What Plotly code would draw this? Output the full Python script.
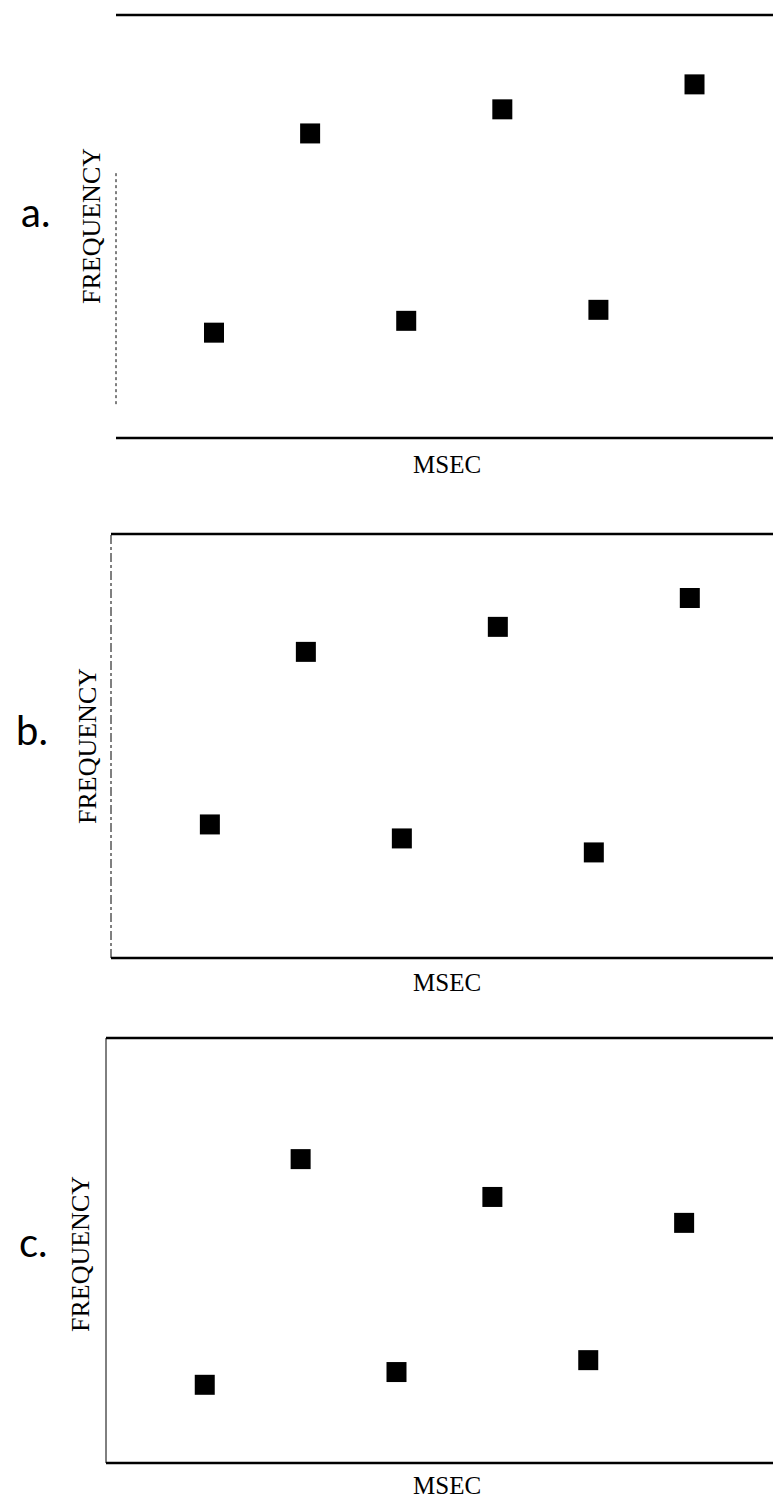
import plotly.graph_objects as go

# ---- data (schematic: interval index vs. relative frequency) ----
interval = [1, 2, 3, 4, 5, 6]
freq_a = [24.9, 72.0, 27.7, 77.7, 30.3, 83.6]
freq_b = [31.5, 72.2, 28.2, 78.1, 24.9, 84.9]
freq_c = [18.4, 71.5, 21.4, 62.6, 24.2, 56.5]
panel_labels = ["a.", "b.", "c."]
x_title = "MSEC"
y_title = "FREQUENCY"

# page body has an 8px margin; figure is sized/offset to compensate
OFF = 8
W, H = 781 - OFF, 1499 - OFF

def px_x(p):
    return (p - OFF) / W

def px_y(p):
    return 1 - (p - OFF) / H

# panel pixel boxes (page coords): left, right, top, bottom
boxes = [(116, 781, 15, 438), (111, 781, 534, 958), (106, 780, 1038, 1463)]
xranges = [[-0.02, 6.9], [-0.03, 6.95], [-0.03, 7.0]]
series = [freq_a, freq_b, freq_c]
label_pos = [(35, 212), (32, 730), (33, 1242)]
ytitle_x = [91, 87, 80]
ytitle_y = [226, 746, 1254]
xtitle_y = [464, 983, 1485]

fig = go.Figure()
serif = "Liberation Serif, DejaVu Serif, serif"
for i in range(3):
    l, r, t, b = boxes[i]
    xa = "x" if i == 0 else f"x{i+1}"
    ya = "y" if i == 0 else f"y{i+1}"
    fig.add_trace(go.Scatter(
        x=interval, y=series[i], mode="markers", xaxis=xa, yaxis=ya,
        marker=dict(symbol="square", size=20, color="black", line=dict(width=0)),
        showlegend=False, hoverinfo="skip"))
    key = "" if i == 0 else str(i + 1)
    fig.layout["xaxis" + key] = dict(domain=[px_x(l), min(1, px_x(r))], range=xranges[i],
                                      showgrid=False, zeroline=False, showticklabels=False,
                                      ticks="", showline=False, anchor=ya)
    fig.layout["yaxis" + key] = dict(domain=[px_y(b), px_y(t)], range=[0, 100],
                                      showgrid=False, zeroline=False, showticklabels=False,
                                      ticks="", showline=False, anchor=xa)
    dref_x = f"{xa} domain"
    dref_y = f"{ya} domain"
    for yy in (0, 1):
        fig.add_shape(type="line", xref=dref_x, yref=dref_y, x0=0, x1=1, y0=yy, y1=yy,
                      line=dict(color="black", width=2.5))
    if i == 0:
        fig.add_shape(type="line", xref=dref_x, yref=dref_y, x0=0, x1=0, y0=0.08, y1=0.63,
                      line=dict(color="black", width=1, dash="dot"))
    elif i == 1:
        fig.add_shape(type="line", xref=dref_x, yref=dref_y, x0=0, x1=0, y0=0, y1=1,
                      line=dict(color="black", width=1, dash="dashdot"))
        fig.add_shape(type="line", xref=dref_x, yref=dref_y, x0=1, x1=1, y0=0.05, y1=0.35,
                      line=dict(color="#888", width=1, dash="dot"))
    else:
        fig.add_shape(type="line", xref=dref_x, yref=dref_y, x0=0, x1=0, y0=0, y1=1,
                      line=dict(color="black", width=1))
        fig.add_shape(type="line", xref=dref_x, yref=dref_y, x0=1, x1=1, y0=0, y1=0.82,
                      line=dict(color="black", width=1, dash="dash"))
    lx, ly = label_pos[i]
    fig.add_annotation(x=px_x(lx), y=px_y(ly), xref="paper", yref="paper",
                       xanchor="center", yanchor="middle",
                       text=panel_labels[i], showarrow=False,
                       font=dict(family="Lato, Open Sans, sans-serif", size=40, color="black"))
    fig.add_annotation(x=px_x(ytitle_x[i]), y=px_y(ytitle_y[i]), xref="paper", yref="paper",
                       xanchor="center", yanchor="middle",
                       text=y_title, textangle=-90, showarrow=False,
                       font=dict(family=serif, size=26, color="black"))
    fig.add_annotation(x=px_x(447), y=px_y(xtitle_y[i]), xref="paper", yref="paper",
                       xanchor="center", yanchor="middle",
                       text=x_title, showarrow=False,
                       font=dict(family=serif, size=25, color="black"))

fig.update_layout(width=W, height=H, margin=dict(l=0, r=0, t=0, b=0),
                  paper_bgcolor="white", plot_bgcolor="white")
fig.write_html("out.html")
